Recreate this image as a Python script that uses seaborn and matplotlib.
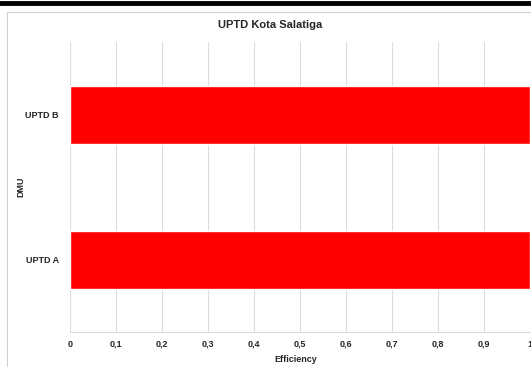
import matplotlib
matplotlib.use("Agg")
import matplotlib.pyplot as plt
import seaborn as sns
import pandas as pd

# Chart data
dmu = ["UPTD B", "UPTD A"]
efficiency = [1.0, 1.0]
x_ticks = [0, 0.1, 0.2, 0.3, 0.4, 0.5, 0.6, 0.7, 0.8, 0.9, 1.0]
x_tick_labels = ["0", "0,1", "0,2", "0,3", "0,4", "0,5", "0,6", "0,7", "0,8", "0,9", "1"]

df = pd.DataFrame({"DMU": dmu, "Efficiency": efficiency})

sns.set_style("white")
plt.rcParams["font.family"] = ["Liberation Sans", "DejaVu Sans"]
plt.rcParams["font.weight"] = "bold"

fig = plt.figure(figsize=(5.31, 3.67), dpi=100)
ax = fig.add_axes([70 / 531, 35 / 367, 460 / 531, 290 / 367])

sns.barplot(data=df, x="Efficiency", y="DMU", order=dmu, color="#ff0000",
            saturation=1, width=0.4, ax=ax, zorder=3)

ax.set_xlim(0, 1)
ax.set_ylim(1.5, -0.5)
ax.set_xticks(x_ticks)
ax.set_xticklabels(x_tick_labels, fontsize=6.5, fontweight="bold")
ax.set_yticks([0, 1])
ax.set_yticklabels(dmu, fontsize=6.5, fontweight="bold")
ax.grid(axis="x", color="#dcdcdc", linewidth=0.8, zorder=0)
ax.tick_params(axis="x", length=3, color="#dcdcdc", pad=2.5)
ax.tick_params(axis="y", length=0, pad=8)

for side in ["top", "right", "left"]:
    ax.spines[side].set_visible(False)
ax.spines["bottom"].set_color("#dcdcdc")

ax.set_xlabel("Efficiency", fontsize=6.5, fontweight="bold")
ax.xaxis.set_label_coords((296 - 70) / 460, -23 / 290)
ax.set_ylabel("DMU", fontsize=6.5, fontweight="bold")
ax.yaxis.set_label_coords((25 - 70) / 460, 0.5)
fig.text(270 / 531, 1 - 25 / 367, "UPTD Kota Salatiga", ha="center", va="center",
         fontsize=8, fontweight="bold")

# frame of the screenshot: black bar on top, grey chart border
fig.add_artist(plt.Line2D([0, 1], [1 - 2.5 / 367, 1 - 2.5 / 367], color="black", linewidth=3.5))
fig.add_artist(plt.Line2D([7 / 531, 1], [1 - 12 / 367, 1 - 12 / 367], color="#d0d0d0", linewidth=0.8))
fig.add_artist(plt.Line2D([7 / 531, 7 / 531], [0, 1 - 12 / 367], color="#d0d0d0", linewidth=0.8))

fig.savefig("out.png", dpi=100)
